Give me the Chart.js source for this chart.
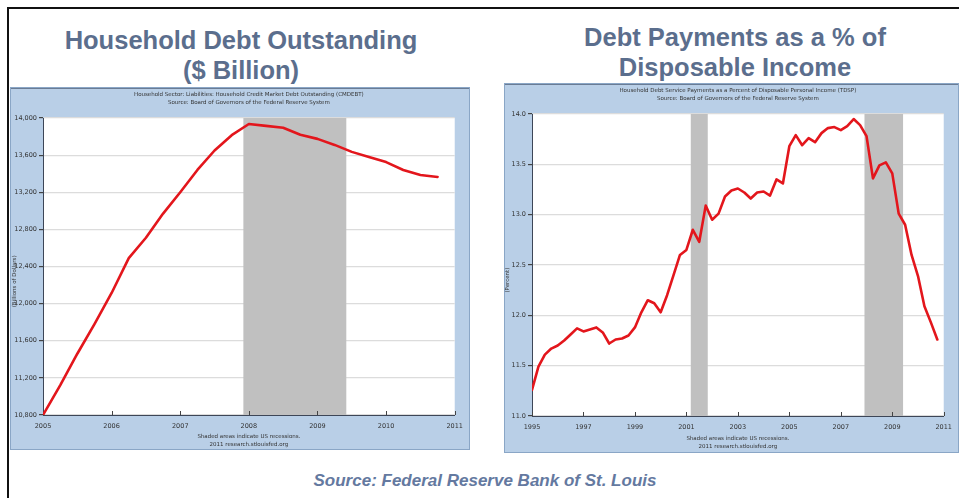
<!DOCTYPE html>
<html>
<head>
<meta charset="utf-8">
<script src="https://cdn.jsdelivr.net/npm/chart.js@4"></script>
<style>
  html, body { margin: 0; padding: 0; background: #fff; }
  body { width: 959px; height: 498px; position: relative; overflow: hidden; font-family: "Liberation Sans", Arial, sans-serif; }
  .frame { position: absolute; left: 7px; top: 7px; width: 970px; height: 510px; border-left: 2px solid #111; border-top: 2px solid #111; }
  .title { position: absolute; color: #5b6e8d; font-weight: bold; font-size: 25.5px; line-height: 30px; text-align: center; }
  #leftTitle { left: 21px; width: 440px; top: 25px; }
  #rightTitle { left: 515px; width: 440px; top: 22px; }
  .panel { position: absolute; }
  #debtPanel { left: 10px; top: 87px; }
  #dspPanel { left: 504px; top: 83px; }
  #source { position: absolute; left: 0; width: 970px; top: 471px; text-align: center; color: #6479a0; font-weight: bold; font-style: italic; font-size: 17px; }
</style>
</head>
<body>
<div class="frame"></div>
<div class="title" id="leftTitle">Household Debt Outstanding<br>($ Billion)</div>
<div class="title" id="rightTitle">Debt Payments as a % of<br>Disposable Income</div>
<canvas id="debtPanel" class="panel" width="460" height="363"></canvas>
<canvas id="dspPanel" class="panel" width="455" height="370"></canvas>
<div id="source">Source: Federal Reserve Bank of St. Louis</div>

<script>
// Household credit market debt outstanding, quarterly from 2005Q1 ($ billion)
const debtStart = 2005;
const debtValues = [
  10800, 11120, 11460, 11780, 12115, 12490, 12710, 12970,
  13200, 13440, 13650, 13815, 13935, 13915, 13895, 13820,
  13775, 13710, 13635, 13580, 13525, 13440, 13385, 13365
];
const debtYTicks = [10800, 11200, 11600, 12000, 12400, 12800, 13200, 13600, 14000];
const debtXTicks = [2005, 2006, 2007, 2008, 2009, 2010, 2011];
const debtRecessions = [[2007.92, 2009.42]];

// Debt service payments as % of disposable income, quarterly from 1995Q1
const dspStart = 1995;
const dspValues = [
  11.26, 11.49, 11.61, 11.67, 11.70, 11.75, 11.81, 11.87,
  11.84, 11.86, 11.88, 11.83, 11.72, 11.76, 11.77, 11.80,
  11.88, 12.03, 12.15, 12.12, 12.03, 12.20, 12.40, 12.60,
  12.65, 12.85, 12.73, 13.09, 12.95, 13.01, 13.18, 13.24,
  13.26, 13.22, 13.16, 13.22, 13.23, 13.19, 13.35, 13.31,
  13.68, 13.79, 13.69, 13.76, 13.72, 13.81, 13.86, 13.87,
  13.84, 13.88, 13.95, 13.89, 13.78, 13.36, 13.49, 13.52,
  13.41, 13.01, 12.90, 12.60, 12.39, 12.09, 11.93, 11.76
];
const dspYTicks = [11.0, 11.5, 12.0, 12.5, 13.0, 13.5, 14.0];
const dspXTicks = [1995, 1997, 1999, 2001, 2003, 2005, 2007, 2009, 2011];
const dspRecessions = [[2001.17, 2001.83], [2007.92, 2009.42]];

const quarterly = (start, values) => values.map((v, i) => ({ x: start + i / 4, y: v }));

const PANEL_BG = '#b9cfe7';
const TICK_FONT = { family: 'DejaVu Sans', size: 6.5 };

// FRED-style frame: blue panel, header/footer notes, recession shading, inward x ticks
const fredFrame = {
  id: 'fredFrame',
  beforeDraw(chart, args, opts) {
    const { ctx, width, height, chartArea: a } = chart;
    ctx.save();
    ctx.fillStyle = PANEL_BG;
    ctx.fillRect(0, 0, width, height);
    ctx.strokeStyle = '#1d2b45';
    ctx.lineWidth = 1.5;
    ctx.beginPath();
    ctx.moveTo(0, 0.75); ctx.lineTo(width, 0.75);
    ctx.stroke();
    ctx.strokeStyle = '#8aa6c6';
    ctx.lineWidth = 1;
    ctx.strokeRect(0.5, 0.5, width - 1, height - 1);
    ctx.fillStyle = '#fff';
    ctx.fillRect(a.left, a.top, a.right - a.left, a.bottom - a.top);

    ctx.fillStyle = '#333';
    ctx.font = '5.5px "DejaVu Sans"';
    ctx.textAlign = 'center';
    ctx.textBaseline = 'middle';
    const cx = a.left + (a.right - a.left) / 2;
    opts.header.forEach((t, i) => ctx.fillText(t, cx, opts.headerY + i * 8));
    opts.footer.forEach((t, i) => ctx.fillText(t, cx, opts.footerY + i * 8));

    ctx.translate(opts.yTitleX, a.top + (a.bottom - a.top) * 0.55);
    ctx.rotate(-Math.PI / 2);
    ctx.fillText(opts.yTitle, 0, 0);
    ctx.restore();
  },
  beforeDatasetsDraw(chart, args, opts) {
    const { ctx, chartArea: a, scales: { x } } = chart;
    ctx.save();
    ctx.fillStyle = '#c0c0c0';
    opts.bands.forEach(([s, e]) => {
      const x0 = x.getPixelForValue(s);
      const x1 = x.getPixelForValue(e);
      ctx.fillRect(x0, a.top, x1 - x0, a.bottom - a.top);
    });
    ctx.strokeStyle = '#444';
    ctx.lineWidth = 1;
    x.ticks.forEach(t => {
      const px = Math.round(x.getPixelForValue(t.value)) + 0.5;
      ctx.beginPath();
      ctx.moveTo(px, a.bottom);
      ctx.lineTo(px, a.bottom - 4);
      ctx.stroke();
    });
    ctx.restore();
  }
};

function makeChart(id, cfg) {
  return new Chart(document.getElementById(id), {
    type: 'line',
    data: {
      datasets: [{
        data: cfg.points,
        borderColor: '#e3161c',
        borderWidth: 2.6,
        pointRadius: 0,
        tension: 0,
        borderJoinStyle: 'round',
        borderCapStyle: 'round'
      }]
    },
    options: {
      responsive: false,
      animation: false,
      layout: { padding: cfg.padding },
      plugins: {
        legend: { display: false },
        tooltip: { enabled: false },
        fredFrame: cfg.frame
      },
      scales: {
        x: {
          type: 'linear',
          min: cfg.xTicks[0],
          max: cfg.xTicks[cfg.xTicks.length - 1],
          afterBuildTicks: s => { s.ticks = cfg.xTicks.map(v => ({ value: v })); },
          afterFit: s => { s.height = cfg.xAxisHeight; },
          grid: { display: true, drawOnChartArea: false, drawTicks: false },
          border: { display: true, color: '#3d4657', width: 1 },
          ticks: {
            color: '#333', font: TICK_FONT, padding: 7, maxRotation: 0, autoSkip: false,
            callback: v => String(v)
          }
        },
        y: {
          type: 'linear',
          min: cfg.yTicks[0],
          max: cfg.yTicks[cfg.yTicks.length - 1],
          afterBuildTicks: s => { s.ticks = cfg.yTicks.map(v => ({ value: v })); },
          afterFit: s => { s.width = cfg.yAxisWidth; },
          grid: { color: '#dcdcdc', lineWidth: 1.2, tickLength: 4, tickColor: '#444' },
          border: { display: true, color: '#3d4657', width: 1 },
          ticks: { color: '#333', font: TICK_FONT, padding: 2, callback: cfg.yFormat }
        }
      }
    },
    plugins: [fredFrame]
  });
}

makeChart('debtPanel', {
  points: quarterly(debtStart, debtValues),
  xTicks: debtXTicks,
  yTicks: debtYTicks,
  yFormat: v => v.toLocaleString('en-US'),
  padding: { left: 0, top: 31, right: 11, bottom: 0 },
  xAxisHeight: 35,
  yAxisWidth: 33,
  frame: {
    header: [
      'Household Sector: Liabilities: Household Credit Market Debt Outstanding (CMDEBT)',
      'Source: Board of Governors of the Federal Reserve System'
    ],
    headerY: 8,
    footer: ['Shaded areas indicate US recessions.', '2011 research.stlouisfed.org'],
    footerY: 350,
    yTitle: '(Billions of Dollars)',
    yTitleX: 5,
    bands: debtRecessions
  }
});

makeChart('dspPanel', {
  points: quarterly(dspStart, dspValues),
  xTicks: dspXTicks,
  yTicks: dspYTicks,
  yFormat: v => v.toFixed(1),
  padding: { left: 0, top: 31, right: 7, bottom: 0 },
  xAxisHeight: 37,
  yAxisWidth: 28,
  frame: {
    header: [
      'Household Debt Service Payments as a Percent of Disposable Personal Income (TDSP)',
      'Source: Board of Governors of the Federal Reserve System'
    ],
    headerY: 8,
    footer: ['Shaded areas indicate US recessions.', '2011 research.stlouisfed.org'],
    footerY: 356,
    yTitle: '(Percent)',
    yTitleX: 4,
    bands: dspRecessions
  }
});
</script>
</body>
</html>
